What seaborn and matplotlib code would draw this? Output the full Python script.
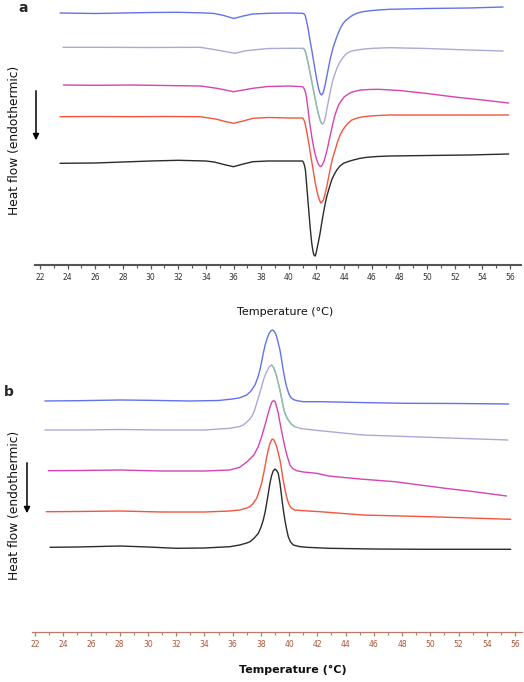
import numpy as np
import pandas as pd
import matplotlib
matplotlib.use("Agg")
import matplotlib.pyplot as plt
import seaborn as sns
from matplotlib.ticker import MultipleLocator

# ---------------- Panel a : heating scans (endothermic dips) ----------------
a_blue_T = [23.45, 26, 28, 30, 32, 34, 34.6, 35.3, 36, 36.7, 37.4, 38.5, 40, 41.0, 41.1, 41.17, 41.25, 41.33,
            41.41, 41.53, 41.66, 41.78, 41.9, 42.02, 42.14, 42.25, 42.36, 42.46, 42.55, 42.64, 42.74, 42.86,
            42.98, 43.1, 43.22, 43.4, 43.58, 43.75, 43.95, 44.2, 44.43, 44.65, 44.92, 45.3, 45.88, 46.5, 47.3,
            50, 53, 55.5]
a_blue_H = [-1.30, -1.35, -1.30, -1.25, -1.23, -1.30, -1.35, -1.55, -1.85, -1.60, -1.40, -1.33, -1.30, -1.33,
            -1.40, -1.50, -1.90, -2.40, -3.00, -4.00, -5.00, -6.00, -7.00, -7.95, -8.80, -9.30, -9.50, -9.35,
            -8.95, -8.40, -7.70, -6.85, -6.00, -5.30, -4.70, -3.95, -3.30, -2.75, -2.30, -1.95, -1.70, -1.50,
            -1.33, -1.18, -1.07, -1.00, -0.93, -0.85, -0.80, -0.70]

a_lav_T = [23.66, 26, 30, 33.6, 34.8, 35.5, 36.1, 36.8, 37.4, 38.5, 40, 41.0, 41.1, 41.15, 41.22, 41.3,
           41.42, 41.54, 41.66, 41.78, 41.9, 42.02, 42.14, 42.26, 42.35, 42.43, 42.52, 42.6, 42.67, 42.74,
           42.86, 42.98, 43.15, 43.35, 43.52, 43.71, 43.95, 44.19, 44.5, 44.92, 45.5, 46.1, 47.3, 50, 53, 55.5]
a_lav_H = [-4.73, -4.73, -4.75, -4.73, -5.00, -5.18, -5.33, -5.10, -5.00, -4.85, -4.83, -4.83, -4.90, -5.00,
           -5.25, -5.67, -6.45, -7.30, -8.15, -9.00, -9.85, -10.67, -11.40, -12.00, -12.30, -12.40, -12.30,
           -12.00, -11.55, -11.00, -10.15, -9.30, -8.20, -7.30, -6.70, -6.17, -5.70, -5.33, -5.12, -5.00,
           -4.90, -4.83, -4.77, -4.85, -5.00, -5.10]

a_mag_T = [23.7, 26, 28.7, 31, 33.6, 34.8, 35.4, 36, 36.7, 37.4, 38.5, 40, 41.0, 41.1, 41.2, 41.28, 41.35,
           41.42, 41.5, 41.6, 41.7, 41.8, 41.9, 42.0, 42.1, 42.2, 42.31, 42.42, 42.55, 42.67, 42.8, 42.92,
           43.05, 43.18, 43.3, 43.45, 43.6, 43.8, 44.0, 44.25, 44.5, 44.85, 45.2, 45.8, 46.5, 48, 50, 52, 54, 55.9]
a_mag_H = [-8.50, -8.53, -8.50, -8.55, -8.60, -8.83, -9.00, -9.17, -9.00, -8.83, -8.65, -8.60, -8.67, -8.85,
           -9.20, -9.75, -10.50, -11.30, -12.20, -13.10, -14.00, -14.75, -15.40, -15.90, -16.30, -16.55,
           -16.67, -16.50, -16.10, -15.50, -14.80, -14.00, -13.20, -12.40, -11.70, -11.05, -10.50, -10.05,
           -9.70, -9.45, -9.25, -9.10, -9.00, -8.95, -8.93, -9.05, -9.35, -9.70, -10.00, -10.30]

a_red_T = [23.45, 26, 28.7, 31, 33.6, 34.8, 35.4, 36, 36.7, 37.4, 38.5, 40, 41.0, 41.08, 41.15, 41.22, 41.3,
           41.4, 41.5, 41.6, 41.7, 41.8, 41.9, 42.0, 42.1, 42.2, 42.31, 42.4, 42.5, 42.62, 42.74, 42.86,
           42.98, 43.15, 43.35, 43.52, 43.71, 43.9, 44.07, 44.3, 44.55, 44.95, 45.4, 46.2, 47.3, 50, 53, 55.9]
a_red_H = [-11.67, -11.65, -11.67, -11.65, -11.67, -11.93, -12.15, -12.33, -12.10, -11.83, -11.75, -11.80,
           -11.80, -11.95, -12.20, -12.65, -13.20, -14.00, -14.80, -15.65, -16.50, -17.35, -18.20, -18.90,
           -19.50, -19.95, -20.30, -20.20, -20.00, -19.40, -18.70, -17.85, -17.00, -15.90, -15.00, -14.20,
           -13.50, -13.00, -12.67, -12.30, -12.00, -11.80, -11.67, -11.57, -11.50, -11.50, -11.50, -11.50]

a_blk_T = [23.45, 26, 28, 30, 32, 34, 34.6, 35.3, 36, 36.7, 37.4, 38.5, 40, 41.0, 41.08, 41.14, 41.2, 41.25,
           41.3, 41.36, 41.42, 41.48, 41.54, 41.6, 41.66, 41.72, 41.78, 41.84, 41.9, 41.96, 42.02, 42.14,
           42.26, 42.38, 42.5, 42.62, 42.74, 42.92, 43.1, 43.28, 43.47, 43.7, 43.95, 44.3, 44.67, 45.1, 45.64,
           46.4, 47.3, 50, 53, 55.9]
a_blk_H = [-16.33, -16.30, -16.20, -16.10, -16.03, -16.10, -16.20, -16.45, -16.67, -16.40, -16.17, -16.10,
           -16.10, -16.10, -16.30, -16.60, -17.00, -17.80, -18.67, -19.65, -20.67, -21.70, -22.67, -23.55,
           -24.33, -24.90, -25.33, -25.55, -25.60, -25.40, -25.00, -24.20, -23.33, -22.30, -21.33, -20.45,
           -19.67, -18.80, -18.00, -17.45, -17.00, -16.60, -16.33, -16.15, -16.00, -15.85, -15.73, -15.65,
           -15.60, -15.55, -15.50, -15.40]

# ---------------- Panel b : cooling scans (exothermic peaks) ----------------
b_blue_T = [22.7, 25, 28, 30, 33, 35, 36.0, 36.5, 37.0, 37.3, 37.58, 37.8, 37.93, 38.05, 38.17, 38.3, 38.45,
            38.6, 38.72, 38.83, 38.95, 39.05, 39.12, 39.23, 39.35, 39.47, 39.58, 39.7, 39.82, 39.95, 40.05,
            40.18, 40.35, 40.6, 41.0, 42.2, 45, 48.2, 52, 55.55]
b_blue_H = [-8.10, -8.07, -8.00, -8.03, -8.10, -8.05, -7.90, -7.78, -7.50, -7.10, -6.50, -5.70, -5.00, -4.20,
            -3.33, -2.50, -1.80, -1.30, -1.07, -1.00, -1.15, -1.40, -1.67, -2.30, -3.00, -4.00, -5.00, -5.90,
            -6.67, -7.25, -7.60, -7.83, -7.98, -8.08, -8.17, -8.17, -8.25, -8.33, -8.35, -8.40]

b_lav_T = [22.7, 25, 28, 31, 34, 35.8, 36.5, 36.75, 37.05, 37.35, 37.55, 37.7, 37.88, 38.05, 38.2, 38.4,
           38.58, 38.76, 38.9, 39.0, 39.12, 39.23, 39.35, 39.47, 39.58, 39.7, 39.82, 39.94, 40.15, 40.4,
           40.8, 41.7, 45.2, 49.9, 55.5]
b_lav_H = [-11.0, -11.0, -10.95, -11.0, -11.0, -10.83, -10.65, -10.50, -10.15, -9.67, -9.05, -8.33, -7.50,
           -6.67, -5.90, -5.20, -4.70, -4.50, -4.75, -5.10, -5.67, -6.30, -7.00, -7.85, -8.67, -9.30, -9.70,
           -10.00, -10.40, -10.67, -10.85, -11.00, -11.50, -11.73, -12.00]

b_mag_T = [22.94, 25, 28, 31, 34, 35.8, 36.5, 37.0, 37.5, 37.8, 38.05, 38.2, 38.35, 38.5, 38.65, 38.78, 38.9,
           39.02, 39.12, 39.23, 39.33, 39.45, 39.58, 39.7, 39.82, 39.95, 40.06, 40.25, 40.53, 41.0, 41.95,
           42.8, 45, 47.5, 49, 51.05, 53, 55.4]
b_mag_H = [-15.07, -15.05, -15.00, -15.10, -15.10, -15.00, -14.73, -14.20, -13.50, -12.70, -11.70, -10.95,
           -10.20, -9.40, -8.70, -8.20, -8.05, -8.20, -8.70, -9.30, -10.10, -11.00, -11.90, -12.70, -13.40,
           -14.00, -14.50, -14.85, -15.07, -15.20, -15.33, -15.60, -15.90, -16.17, -16.45, -16.83, -17.15,
           -17.60]

b_red_T = [22.8, 25, 28, 31, 34, 35.8, 36.5, 37.0, 37.22, 37.45, 37.7, 37.88, 38.05, 38.17, 38.29, 38.4,
           38.52, 38.65, 38.8, 38.92, 39.02, 39.12, 39.23, 39.35, 39.47, 39.58, 39.7, 39.82, 39.95, 40.05,
           40.18, 40.4, 41.0, 42.2, 45.2, 49.9, 55.7]
b_red_H = [-19.17, -19.15, -19.10, -19.20, -19.20, -19.10, -19.00, -18.80, -18.67, -18.35, -17.83, -17.10,
           -16.33, -15.50, -14.67, -13.80, -13.00, -12.30, -11.90, -12.00, -12.30, -12.67, -13.30, -14.00,
           -15.00, -16.00, -16.90, -17.67, -18.30, -18.60, -18.83, -19.00, -19.07, -19.17, -19.50, -19.67,
           -19.93]

b_blk_T = [23.06, 25, 28, 30, 32, 34, 35.8, 36.5, 37.0, 37.23, 37.5, 37.82, 38.0, 38.17, 38.3, 38.41, 38.52,
           38.64, 38.75, 38.87, 39.0, 39.12, 39.23, 39.35, 39.47, 39.58, 39.7, 39.82, 39.94, 40.1, 40.3, 40.7,
           41.24, 42.8, 46, 49.9, 55.7]
b_blk_H = [-22.73, -22.70, -22.60, -22.70, -22.83, -22.80, -22.67, -22.50, -22.30, -22.17, -21.85, -21.33,
           -20.75, -20.00, -19.20, -18.33, -17.40, -16.33, -15.60, -15.10, -14.90, -15.05, -15.33, -16.30,
           -17.67, -18.90, -20.00, -20.90, -21.67, -22.20, -22.50, -22.65, -22.73, -22.83, -22.90, -22.93,
           -22.93]

samples = ["S1", "S2", "S3", "S4", "S5"]
colors = ["#6272ea", "#aaaad8", "#d543b4", "#f3553f", "#2b2b2b"]
green_seg = "#8fbfaa"

ticks = list(range(22, 57, 2))
tick_labels = [str(t) for t in ticks]

curves_a = [(a_blue_T, a_blue_H), (a_lav_T, a_lav_H), (a_mag_T, a_mag_H), (a_red_T, a_red_H), (a_blk_T, a_blk_H)]
curves_b = [(b_blue_T, b_blue_H), (b_lav_T, b_lav_H), (b_mag_T, b_mag_H), (b_red_T, b_red_H), (b_blk_T, b_blk_H)]


def to_df(curves):
    frames = []
    for name, (T, H) in zip(samples, curves):
        frames.append(pd.DataFrame({"T": T, "HF": H, "sample": name}))
    return pd.concat(frames, ignore_index=True)


sns.set_style("white")
plt.rcParams["font.family"] = ["DejaVu Sans"]

W, H = 524, 682
fig = plt.figure(figsize=(W / 100, H / 100), dpi=100)
axA = fig.add_axes([35 / W, 1 - 265 / H, 486 / W, 265 / H])
axB = fig.add_axes([32 / W, 50 / H, 490 / W, 312 / H])

pal = dict(zip(samples, colors))

dfa = to_df(curves_a)
sns.lineplot(data=dfa, x="T", y="HF", hue="sample", palette=pal, estimator=None, sort=False,
             lw=1.0, legend=False, ax=axA)
seg = dfa[(dfa["sample"] == "S2") & (dfa["T"] >= 41.0) & (dfa["T"] <= 42.43)]
sns.lineplot(data=seg, x="T", y="HF", color=green_seg, estimator=None, sort=False, lw=1.0, ax=axA)

dfb = to_df(curves_b)
sns.lineplot(data=dfb, x="T", y="HF", hue="sample", palette=pal, estimator=None, sort=False,
             lw=1.0, legend=False, ax=axB)
segb = dfb[(dfb["sample"] == "S2") & (dfb["T"] >= 38.76) & (dfb["T"] <= 40.4)]
sns.lineplot(data=segb, x="T", y="HF", color=green_seg, estimator=None, sort=False, lw=1.0, ax=axB)

axA.set_xlim(21.638, 56.796)
axA.set_ylim(-26.5, 0)
axB.set_xlim(21.787, 56.496)
axB.set_ylim(-31.2, 0)

for ax, col, lcol, lw in [(axA, "#555555", "#333333", 1.5), (axB, "#b97a6a", "#a9553a", 0.9)]:
    for s in ["top", "left", "right"]:
        ax.spines[s].set_visible(False)
    ax.spines["bottom"].set_color(col)
    ax.spines["bottom"].set_linewidth(lw)
    ax.set_yticks([])
    ax.set_xticks(ticks)
    ax.set_xticklabels(tick_labels)
    ax.xaxis.set_minor_locator(MultipleLocator(1))
    ax.tick_params(axis="x", which="major", direction="out", length=3.2, width=0.9, color=col,
                   labelcolor=lcol, labelsize=5.5, pad=2.5, bottom=True)
    ax.tick_params(axis="x", which="minor", direction="out", length=1.8, width=0.8, color=col, bottom=True)
    ax.set_xlabel("")
    ax.set_ylabel("")
    ax.patch.set_alpha(0)

# axis titles
fig.text(285 / W, 1 - 312 / H, "Temperature (°C)", ha="center", va="center", fontsize=8, color="#111111")
fig.text(293 / W, 1 - 670 / H, "Temperature (°C)", ha="center", va="center", fontsize=8,
         fontweight="bold", color="#111111")
fig.text(15 / W, 1 - 140 / H, "Heat flow (endothermic)", rotation=90, ha="center", va="center",
         fontsize=8.8, color="#111111")
fig.text(15 / W, 1 - 505 / H, "Heat flow (endothermic)", rotation=90, ha="center", va="center",
         fontsize=8.8, color="#111111")

# panel letters
fig.text(23 / W, 1 - 8 / H, "a", ha="center", va="center", fontsize=10, fontweight="bold")
fig.text(9 / W, 1 - 392 / H, "b", ha="center", va="center", fontsize=10, fontweight="bold")

# direction arrows
fig.add_artist(matplotlib.patches.FancyArrowPatch((36 / W, 1 - 88 / H), (36 / W, 1 - 143 / H),
                                                  transform=fig.transFigure, arrowstyle="-|>",
                                                  mutation_scale=9, color="black", lw=1.1))
fig.add_artist(matplotlib.patches.FancyArrowPatch((27 / W, 1 - 460 / H), (27 / W, 1 - 516 / H),
                                                  transform=fig.transFigure, arrowstyle="-|>",
                                                  mutation_scale=9, color="black", lw=1.1))

fig.savefig("out.png", dpi=100, facecolor="white")
